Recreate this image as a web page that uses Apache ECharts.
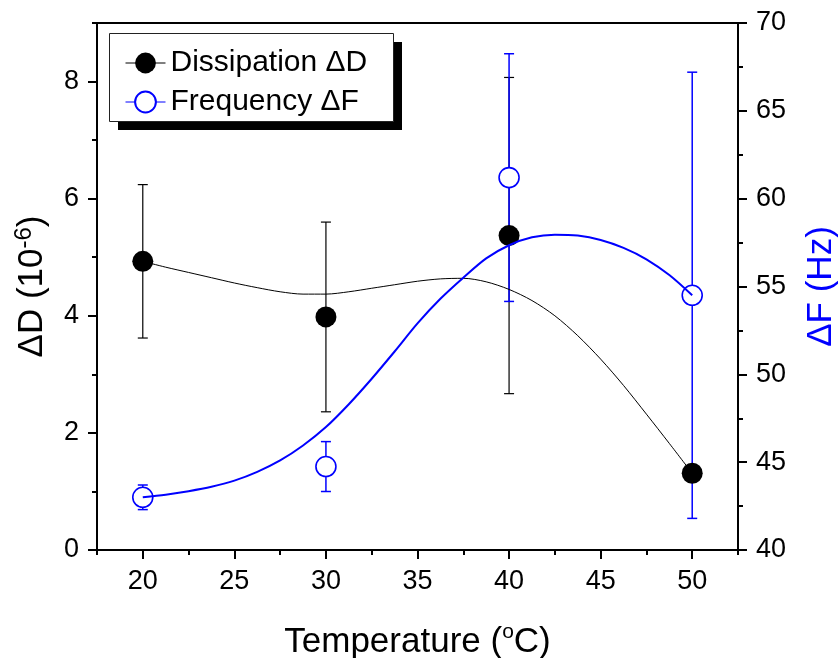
<!DOCTYPE html>
<html>
<head>
<meta charset="utf-8">
<script src="https://cdn.jsdelivr.net/npm/echarts@6/dist/echarts.min.js"></script>
<style>
  html, body { margin: 0; padding: 0; background: #fff; }
  #chart { width: 838px; height: 658px; }
</style>
</head>
<body>
<div id="chart"></div>
<script>
// Measured points (temperature in °C)
const temps = [20, 30, 40, 50];
const dissipation = [4.93, 3.98, 5.37, 1.31];        // ΔD, 10^-6
const dissipationErr = [1.31, 1.62, 2.70, null];
const frequency = [43.0, 44.75, 61.2, 54.5];          // ΔF, Hz
const frequencyErr = [0.7, 1.42, 7.05, 12.7];

// Smoothed trend curves
const fitTemps = [20, 21.25, 22.5, 23.75, 25, 26.25, 27.5, 28.75, 30, 31.25, 32.5, 33.75, 35,
                  36.25, 37.5, 38.75, 40, 41.25, 42.5, 43.75, 45, 46.25, 47.5, 48.75, 50];
const dissipationFit = [4.93, 4.83, 4.74, 4.65, 4.56, 4.48, 4.41, 4.37, 4.37, 4.41, 4.47, 4.53, 4.59,
                        4.63, 4.64, 4.58, 4.45, 4.26, 4.0, 3.66, 3.26, 2.81, 2.32, 1.82, 1.31];
const frequencyFit = [43.0, 43.15, 43.35, 43.6, 43.95, 44.45, 45.1, 45.95, 47.0, 48.3, 49.75, 51.3, 52.9,
                      54.3, 55.5, 56.6, 57.35, 57.8, 57.95, 57.9, 57.65, 57.2, 56.55, 55.65, 54.5];

// Axis ticks
const xTicks = [20, 25, 30, 35, 40, 45, 50];
const xMinorTicks = [17.5, 22.5, 27.5, 32.5, 37.5, 42.5, 47.5, 52.5];
const dTicks = [0, 2, 4, 6, 8];
const dMinorTicks = [1, 3, 5, 7, 9];

const FONT = '"Liberation Sans", Arial, Helvetica, sans-serif';
const BLUE = '#0000ff';

const zip = (xs, ys) => xs.map((x, i) => [x, ys[i]]);
const withErr = (xs, ys, es) => xs.map((x, i) => [x, ys[i], es[i]]).filter(d => d[2] != null);

function errorBars(color, width) {
  return function (params, api) {
    const x = api.value(0), y = api.value(1), e = api.value(2);
    const top = api.coord([x, y + e]);
    const bot = api.coord([x, y - e]);
    const half = 5;
    const style = { stroke: color, lineWidth: width };
    return {
      type: 'group',
      children: [
        { type: 'line', shape: { x1: top[0], y1: top[1], x2: bot[0], y2: bot[1] }, style },
        { type: 'line', shape: { x1: top[0] - half, y1: top[1], x2: top[0] + half, y2: top[1] }, style },
        { type: 'line', shape: { x1: bot[0] - half, y1: bot[1], x2: bot[0] + half, y2: bot[1] }, style }
      ]
    };
  };
}

const axisLine = { show: true, lineStyle: { color: '#000', width: 2 } };
const labelStyle = { fontSize: 27, color: '#000', fontFamily: FONT, margin: 18 };
const nameStyle = { fontSize: 35, lineHeight: 40, color: '#000', fontFamily: FONT };

// Legend frame with a solid drop shadow
const legendBox = { x: 109, y: 33, width: 284, height: 88, shadow: 9 };

const chart = echarts.init(document.getElementById('chart'), null, { renderer: 'canvas' });
chart.setOption({
  animation: false,
  backgroundColor: '#fff',
  grid: {
    left: 97, right: 100, top: 23, bottom: 108,
    show: true, borderColor: '#000', borderWidth: 2,
    outerBoundsMode: 'none'
  },
  graphic: [
    {
      type: 'rect', z: 3, silent: true,
      shape: { x: legendBox.x + legendBox.shadow, y: legendBox.y + legendBox.shadow, width: legendBox.width, height: legendBox.height },
      style: { fill: '#000' }
    },
    {
      type: 'rect', z: 3, silent: true,
      shape: { x: legendBox.x + 0.5, y: legendBox.y + 0.5, width: legendBox.width, height: legendBox.height },
      style: { fill: '#fff', stroke: '#222', lineWidth: 1 }
    }
  ],
  legend: {
    data: ['Dissipation ΔD', 'Frequency ΔF'],
    orient: 'vertical',
    left: legendBox.x, top: legendBox.y,
    itemWidth: 40, itemHeight: 26, itemGap: 9,
    padding: [15, 0, 0, 16],
    lineStyle: { width: 1 },
    textStyle: { fontSize: 30, color: '#000', fontFamily: FONT },
    selectedMode: false
  },
  xAxis: [
    {
      type: 'value', min: 17.5, max: 52.5, position: 'bottom',
      axisLine,
      axisTick: { show: true, inside: false, length: 9, lineStyle: { color: '#000', width: 2 }, customValues: xTicks },
      axisLabel: Object.assign({ customValues: xTicks }, labelStyle),
      splitLine: { show: false },
      name: 'Temperature ({s|o}C)',
      nameLocation: 'middle', nameGap: 72,
      nameTextStyle: Object.assign({
        rich: { s: { fontSize: 21, lineHeight: 20, verticalAlign: 'top', fontFamily: FONT, color: '#000' } }
      }, nameStyle)
    },
    {
      type: 'value', min: 17.5, max: 52.5, position: 'bottom',
      axisLine: { show: false },
      axisTick: { show: true, inside: false, length: 5, lineStyle: { color: '#000', width: 2 }, customValues: xMinorTicks },
      axisLabel: { show: false },
      splitLine: { show: false }
    }
  ],
  yAxis: [
    {
      type: 'value', min: 0, max: 9, position: 'left',
      axisLine,
      axisTick: { show: true, inside: false, length: 9, lineStyle: { color: '#000', width: 2 }, customValues: dTicks },
      axisLabel: Object.assign({ customValues: dTicks }, labelStyle),
      splitLine: { show: false },
      name: 'ΔD (10{s|-6})',
      nameLocation: 'middle', nameGap: 45,
      nameTextStyle: Object.assign({
        rich: { s: { fontSize: 24, lineHeight: 4, verticalAlign: 'top', fontFamily: FONT, color: '#000' } }
      }, nameStyle)
    },
    {
      type: 'value', min: 40, max: 70, interval: 5, position: 'right',
      axisLine,
      axisTick: { show: true, inside: false, length: 9, lineStyle: { color: '#000', width: 2 } },
      minorTick: { show: true, splitNumber: 2, length: 5, lineStyle: { color: '#000', width: 2 } },
      axisLabel: labelStyle,
      splitLine: { show: false },
      name: 'ΔF (Hz)',
      nameLocation: 'middle', nameGap: 63,
      nameTextStyle: Object.assign({}, nameStyle, { color: BLUE })
    },
    {
      type: 'value', min: 0, max: 9, position: 'left',
      axisLine: { show: false },
      axisTick: { show: true, inside: false, length: 5, lineStyle: { color: '#000', width: 2 }, customValues: dMinorTicks },
      axisLabel: { show: false },
      splitLine: { show: false }
    }
  ],
  series: [
    {
      name: 'Dissipation ΔD', type: 'line', xAxisIndex: 0, yAxisIndex: 0,
      data: zip(fitTemps, dissipationFit), smooth: 0.3,
      symbol: 'circle', showSymbol: false,
      itemStyle: { color: '#000' },
      lineStyle: { color: '#000', width: 1 },
      emphasis: { disabled: true }, silent: true
    },
    {
      name: 'ΔD error', type: 'custom', xAxisIndex: 0, yAxisIndex: 0,
      data: withErr(temps, dissipation, dissipationErr),
      encode: { x: 0, y: 1 },
      renderItem: errorBars('#000', 1.2), silent: true
    },
    {
      name: 'ΔD points', type: 'scatter', xAxisIndex: 0, yAxisIndex: 0,
      data: zip(temps, dissipation),
      symbol: 'circle', symbolSize: 21,
      itemStyle: { color: '#000', opacity: 1 },
      emphasis: { disabled: true }, silent: true
    },
    {
      name: 'Frequency ΔF', type: 'line', xAxisIndex: 0, yAxisIndex: 1,
      data: zip(fitTemps, frequencyFit), smooth: 0.3,
      symbol: 'emptyCircle', showSymbol: false,
      itemStyle: { color: BLUE },
      lineStyle: { color: BLUE, width: 2 },
      emphasis: { disabled: true }, silent: true
    },
    {
      name: 'ΔF error', type: 'custom', xAxisIndex: 0, yAxisIndex: 1,
      data: withErr(temps, frequency, frequencyErr),
      encode: { x: 0, y: 1 },
      renderItem: errorBars(BLUE, 1.5), silent: true
    },
    {
      name: 'ΔF points', type: 'scatter', xAxisIndex: 0, yAxisIndex: 1,
      data: zip(temps, frequency),
      symbol: 'circle', symbolSize: 20,
      itemStyle: { color: '#fff', borderColor: BLUE, borderWidth: 1.6, opacity: 1 },
      emphasis: { disabled: true }, silent: true
    }
  ]
});
</script>
</body>
</html>
